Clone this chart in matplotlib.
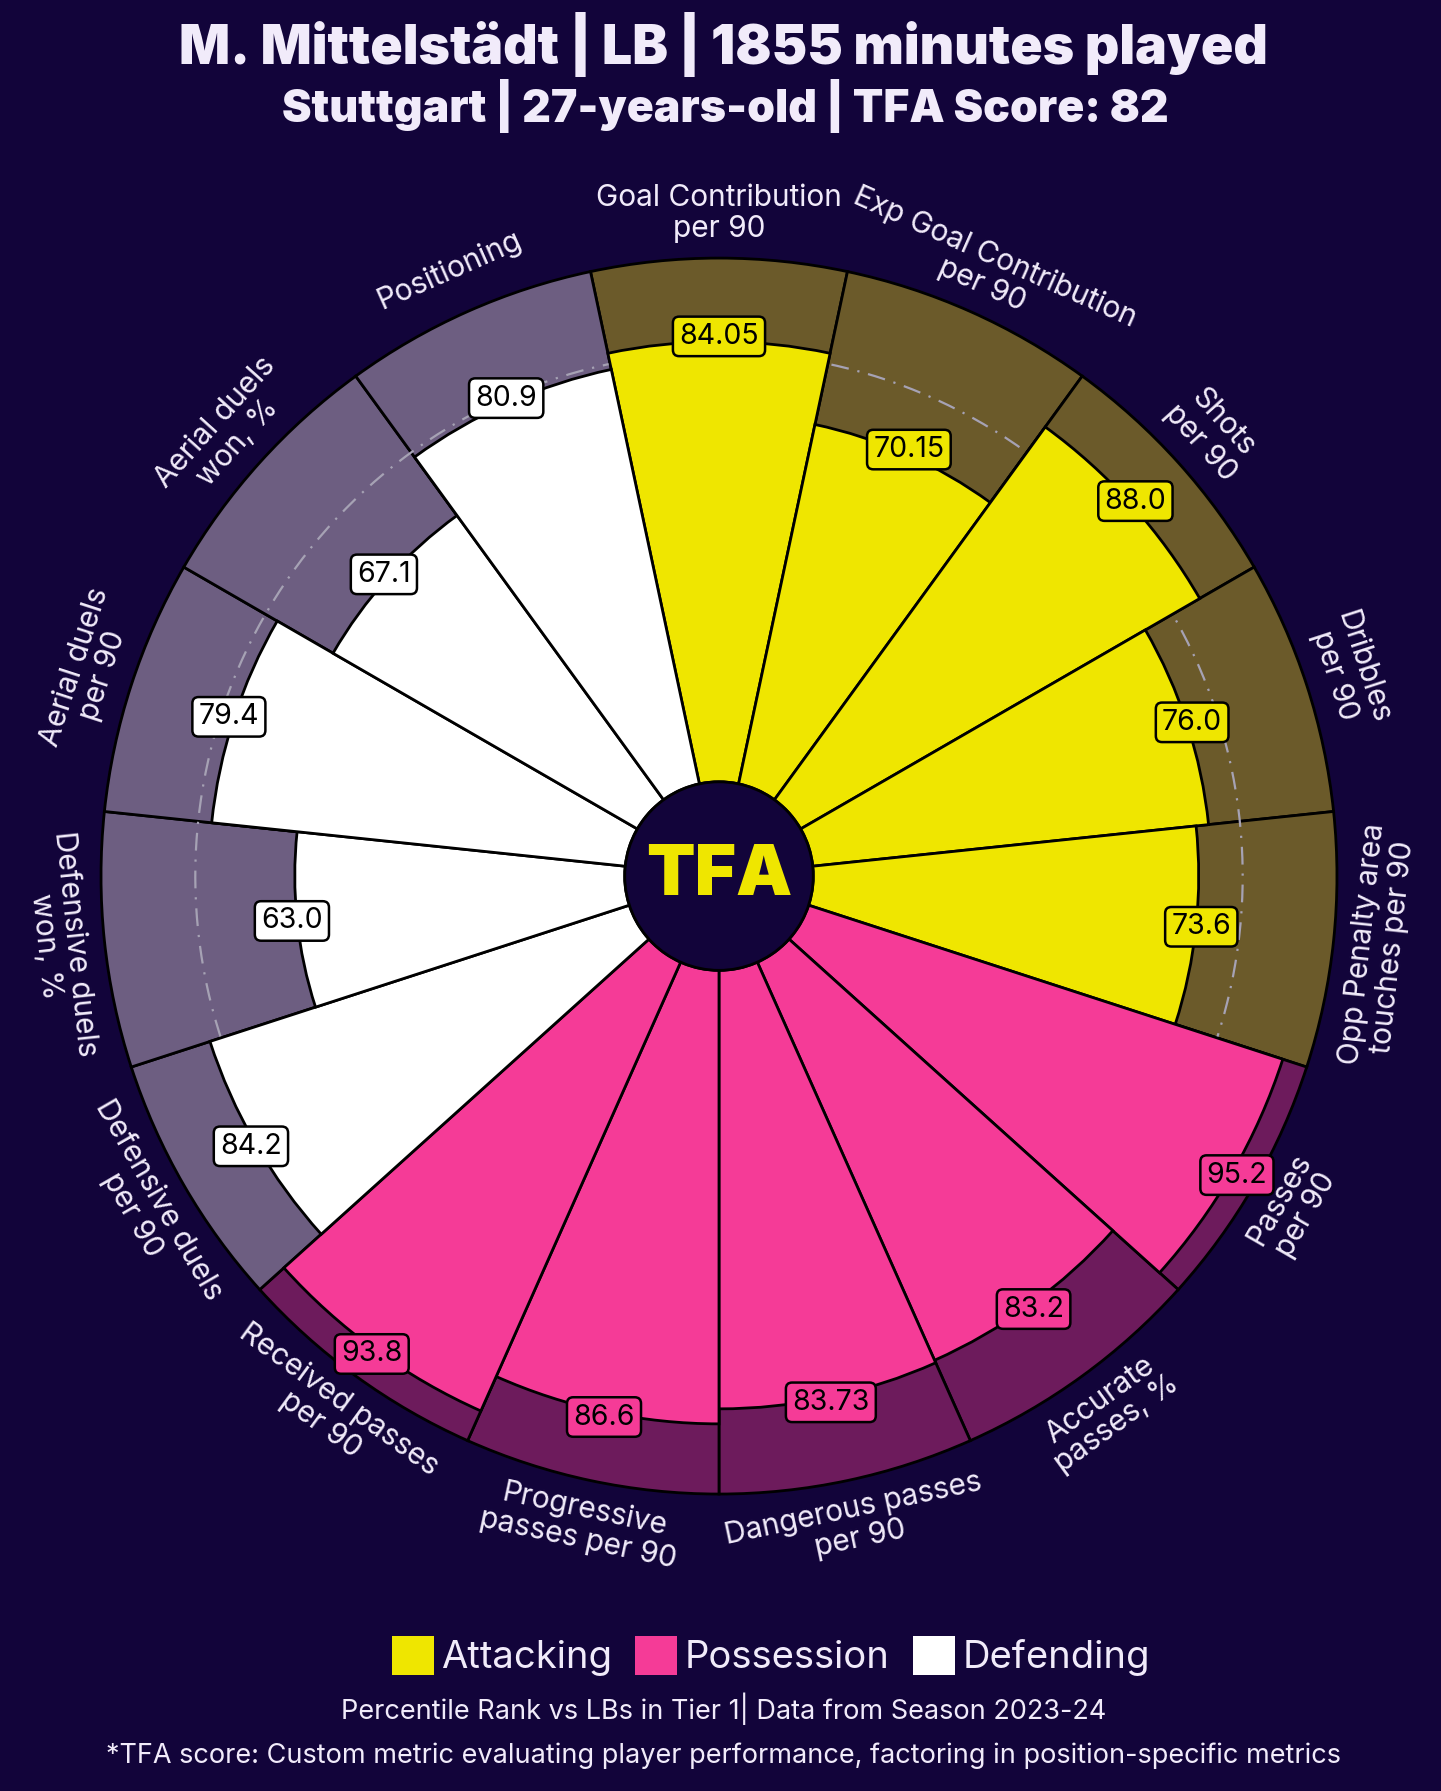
import numpy as np
import matplotlib.pyplot as plt
from matplotlib.patches import Circle, Patch

# ---------------- data ----------------
params = ["Goal Contribution\nper 90", "Exp Goal Contribution\nper 90", "Shots\nper 90",
          "Dribbles\nper 90", "Opp Penalty area\ntouches per 90", "Passes\nper 90",
          "Accurate\npasses, %", "Dangerous passes\nper 90", "Progressive\npasses per 90",
          "Received passes\nper 90", "Defensive duels\nper 90", "Defensive duels\nwon, %",
          "Aerial duels\nper 90", "Aerial duels\nwon, %", "Positioning"]
values = [84.05, 70.15, 88.0, 76.0, 73.6, 95.2, 83.2, 83.73, 86.6, 93.8,
          84.2, 63.0, 79.4, 67.1, 80.9]
groups = ["Attacking", "Attacking", "Attacking", "Attacking", "Attacking",
          "Possession", "Possession", "Possession", "Possession", "Possession",
          "Defending", "Defending", "Defending", "Defending", "Defending"]
legend_names = ["Attacking", "Possession", "Defending"]
tfa_score = 82

title = "M. Mittelstädt | LB | 1855 minutes played"
subtitle = "Stuttgart | 27-years-old | TFA Score: 82"
foot1 = "Percentile Rank vs LBs in Tier 1| Data from Season 2023-24"
foot2 = "*TFA score: Custom metric evaluating player performance, factoring in position-specific metrics"

# ---------------- style ----------------
BG = '#12043a'
TXT = '#f1ebfa'
fill_col = {'Attacking': '#efe600', 'Possession': '#f53b97', 'Defending': '#ffffff'}
back_col = {'Attacking': '#6b5a2a', 'Possession': '#6d1b5c', 'Defending': '#6d5e81'}
plt.rcParams['font.family'] = ['Inter', 'DejaVu Sans']

fig = plt.figure(figsize=(14.41, 17.91), dpi=100, facecolor=BG)
ax = fig.add_axes([0.0701, 0.1658, 0.8577, 0.6901], projection='polar')
ax.set_theta_zero_location('N')
ax.set_theta_direction(-1)
ax.set_rorigin(-18)
ax.set_ylim(0, 100)
ax.axis('off')

n = len(params)
theta = np.deg2rad(np.arange(n) * 360 / n)
width = 2 * np.pi / n

ax.bar(theta, [100] * n, width=width, bottom=0, color=[back_col[g] for g in groups],
       edgecolor='black', lw=2.0, zorder=1, clip_on=False)
t = np.linspace(0, 2 * np.pi, 500)
ax.plot(t, np.full_like(t, tfa_score), color='#a6a2b4', lw=1.6, ls=(0, (8, 4, 1, 4)), zorder=2)
ax.bar(theta, values, width=width, bottom=0, color=[fill_col[g] for g in groups],
       edgecolor='black', lw=2.0, zorder=3, clip_on=False)

# value boxes
for th, v, g in zip(theta, values, groups):
    ax.text(th, v + 1, f"{v}", ha='center', va='center', fontsize=20.5, color='black', zorder=6,
            bbox=dict(boxstyle='round,pad=0.22', fc=fill_col[g], ec='black', lw=1.8))

# parameter labels
for th, p in zip(theta, params):
    a = np.rad2deg(th)
    rot = -a if (a < 90 or a > 270) else 180 - a
    ax.text(th, 108.5, p, ha='center', va='center', rotation=rot, rotation_mode='anchor',
            fontsize=21.5, color=TXT, linespacing=1.1, clip_on=False)

# centre logo
ax.add_patch(Circle((0.5, 0.5), 0.5 * 18 / 118, transform=ax.transAxes, fc=BG, ec='black',
                    lw=2, zorder=8, clip_on=False))
ax.text(0.5, 0.5, "TFA", transform=ax.transAxes, ha='center', va='center', fontsize=51,
        fontweight='black', color=fill_col['Attacking'], zorder=9)

# titles
fig.text(0.502, 0.975, title, ha='center', va='center', fontsize=38.5, fontweight='black', color=TXT)
fig.text(0.503, 0.941, subtitle, ha='center', va='center', fontsize=32, fontweight='black', color=TXT)

handles = [Patch(facecolor=fill_col[g], edgecolor='none') for g in legend_names]
leg = fig.legend(handles, legend_names, loc='center', bbox_to_anchor=(0.535, 0.0754), ncol=3,
                 frameon=False, fontsize=27.5, labelcolor=TXT, handlelength=1.1, handleheight=1.2,
                 handletextpad=0.2, columnspacing=0.6)

fig.text(0.502, 0.0458, foot1, ha='center', va='center', fontsize=19.5, color=TXT)
fig.text(0.502, 0.0195, foot2, ha='center', va='center', fontsize=19.5, color=TXT)

fig.savefig('out.png', dpi=100, facecolor=BG)
